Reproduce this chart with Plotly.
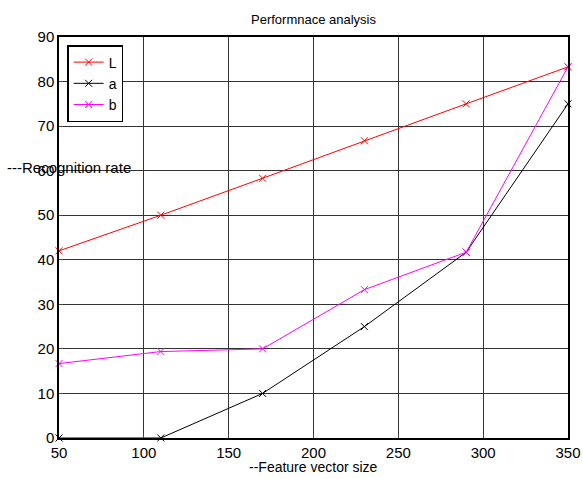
import plotly.graph_objects as go

x_vals = [50, 110, 170, 230, 290, 350]
L_vals = [42, 50, 58.3, 66.7, 75, 83.3]
a_vals = [0, 0, 10, 25, 41.7, 75]
b_vals = [16.7, 19.4, 20, 33.3, 41.7, 83.3]

series = [("L", L_vals, "#ff0000"), ("a", a_vals, "#000000"), ("b", b_vals, "#ff00ff")]

fig = go.Figure()
for name, vals, col in series:
    fig.add_trace(go.Scatter(
        x=x_vals, y=vals, name=name, mode="lines+markers",
        line=dict(color=col, width=1),
        marker=dict(symbol="x-thin", size=7, line=dict(color=col, width=1)),
        cliponaxis=False,
    ))

font = "Liberation Sans, Arial, sans-serif"
fig.update_layout(
    width=583, height=479,
    margin=dict(l=59, r=15, t=37, b=41),
    paper_bgcolor="white", plot_bgcolor="white",
    font=dict(family=font, size=15, color="black"),
    showlegend=True,
    legend=dict(x=0.016, y=0.98, xanchor="left", yanchor="top",
                bordercolor="black", borderwidth=1.5, bgcolor="white",
                font=dict(size=14), tracegroupgap=0, itemwidth=30),
    annotations=[
        dict(text="Performnace analysis", xref="paper", yref="paper",
             x=0.5, y=1, yshift=18, xanchor="center", yanchor="middle",
             showarrow=False, font=dict(size=13)),
        dict(text="--Feature vector size", xref="paper", yref="paper",
             x=0.5, y=0, yshift=-29, xanchor="center", yanchor="middle",
             showarrow=False, font=dict(size=14)),
        dict(text="---Recognition rate", xref="paper", yref="paper",
             x=-0.106, y=0.675, xanchor="left", yanchor="middle",
             showarrow=False, font=dict(size=15)),
    ],
)
fig.update_xaxes(range=[50, 350], dtick=50, tick0=50, showgrid=True,
                 gridcolor="#333333", gridwidth=1, showline=True,
                 linecolor="black", linewidth=1.5, mirror=True,
                 ticks="inside", ticklen=4, zeroline=False,
                 tickfont=dict(size=15), automargin=False)
fig.update_yaxes(range=[0, 90], dtick=10, showgrid=True,
                 gridcolor="#333333", gridwidth=1, showline=True,
                 linecolor="black", linewidth=1.5, mirror=True,
                 ticks="inside", ticklen=4, zeroline=False,
                 tickfont=dict(size=15), automargin=False)

fig.write_html("out.html", config={"displayModeBar": False},
               post_script="document.body.style.margin='0';document.body.style.overflow='hidden';")
